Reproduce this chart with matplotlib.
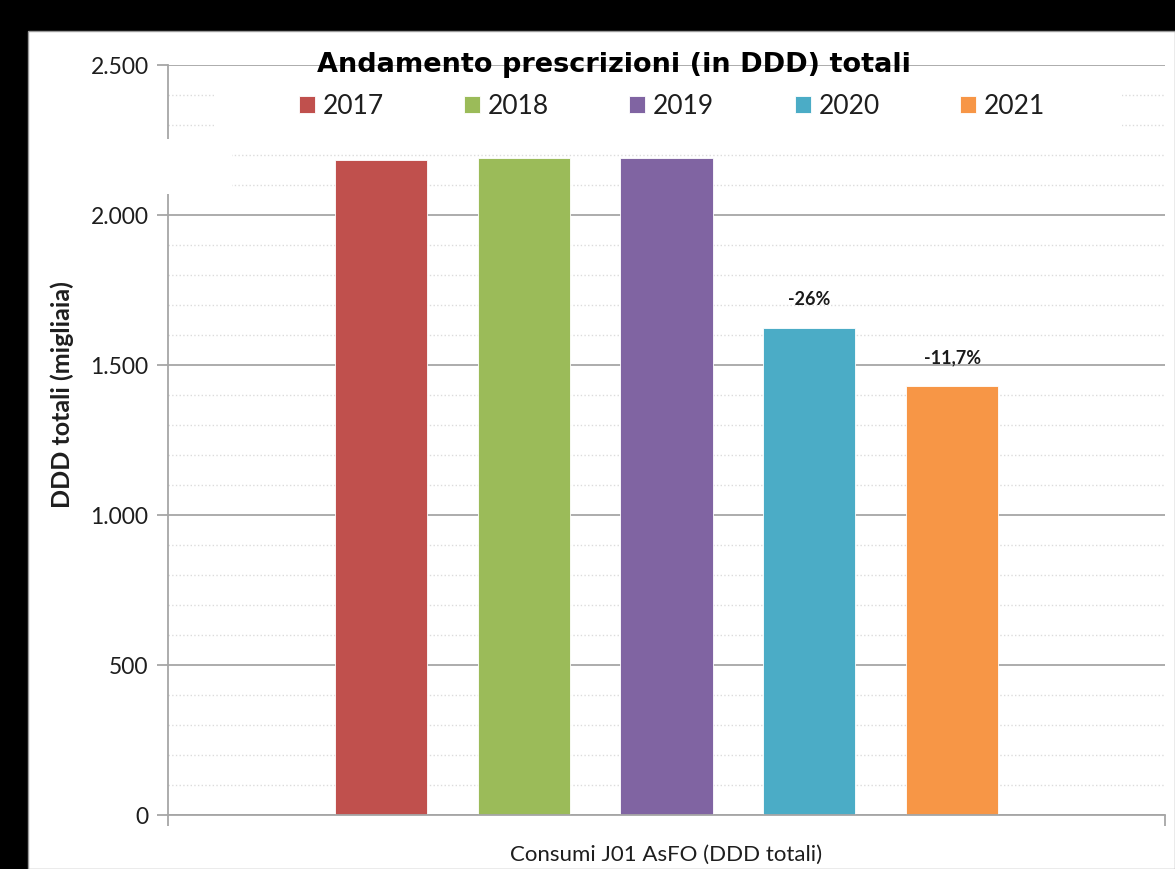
import numpy as np
import matplotlib
matplotlib.use('Agg')
import matplotlib.pyplot as plt
from matplotlib.patches import Rectangle
from matplotlib.ticker import MultipleLocator, FuncFormatter

# ---------------------------------------------------------------------------
# Data (DDD totali, migliaia)
# ---------------------------------------------------------------------------

years = ['2017', '2018', '2019', '2020', '2021']
values = [2183, 2190, 2190, 1623, 1430]
bar_labels = ['', '', '', '-26%', '-11,7%']
colors = ['#C0504D', '#9BBB59', '#8064A2', '#4BACC6', '#F79646']

TITLE = 'Andamento prescrizioni (in DDD) totali'
YLABEL = 'DDD totali (migliaia)'
XLABEL = 'Consumi J01 AsFO (DDD totali)'

W, H = 1175, 870

# ---------------------------------------------------------------------------
# Plot
# ---------------------------------------------------------------------------

plt.rcParams['font.family'] = ['Lato', 'DejaVu Sans']

fig = plt.figure(figsize=(W / 100, H / 100), dpi=100, facecolor='black')
fig.patches.append(Rectangle((28 / W, 0), 1 - 28 / W, 1 - 32 / H,
                             transform=fig.transFigure, facecolor='white',
                             edgecolor='#9a9a9a', lw=1, zorder=-1))

ax = fig.add_axes([168 / W, 1 - 816 / H, (1165 - 168) / W, (816 - 66) / H])
ax.set_facecolor('white')

spacing = 0.1434
width = 0.0923
for i, (yr, v, c, lab) in enumerate(zip(years, values, colors, bar_labels)):
    x = (i - 2) * spacing
    ax.bar(x, v, width=width, color=c, edgecolor='#ffffff', linewidth=0.6,
           label=yr, zorder=2)
    if lab:
        ax.text(x, v + 70, lab, ha='center', va='bottom', fontsize=13,
                fontweight='bold', color='#1a1a1a', zorder=4)

ax.set_xlim(-0.5, 0.5)
ax.set_ylim(0, 2500)
ax.yaxis.set_major_locator(MultipleLocator(500))
ax.yaxis.set_minor_locator(MultipleLocator(100))
ax.yaxis.set_major_formatter(FuncFormatter(lambda v, p: f'{int(v):,}'.replace(',', '.')))
ax.set_axisbelow(True)
ax.grid(which='major', axis='y', color='#a6a6a6', lw=1.3, ls='-')
ax.grid(which='minor', axis='y', color='#dcdcdc', lw=1.0, ls=':')

ax.set_xticks([-0.5, 0.5])
ax.set_xticklabels(['', ''])
ax.tick_params(axis='x', direction='out', length=8, color='#a6a6a6', width=1.3)
ax.tick_params(axis='y', which='major', direction='out', length=8, color='#a6a6a6',
               width=1.3, labelsize=16.5, labelcolor='#1e1e1e', pad=6)
ax.tick_params(axis='y', which='minor', length=0)

for s in ['top', 'right']:
    ax.spines[s].set_visible(False)
for s in ['left', 'bottom']:
    ax.spines[s].set_color('#a6a6a6')
    ax.spines[s].set_linewidth(1.3)

# white patches left over from the pasted legend
for (x0, y0, x1, y1) in [(214, 68, 1122, 140), (158, 140, 232, 195)]:
    ax.add_patch(Rectangle((x0 / W, 1 - y1 / H), (x1 - x0) / W, (y1 - y0) / H,
                           transform=fig.transFigure, facecolor='white',
                           edgecolor='none', clip_on=False, zorder=3))

leg = ax.legend(ncol=5, loc='center', bbox_to_anchor=(672 / W, 1 - 107 / H),
                bbox_transform=fig.transFigure, frameon=False, fontsize=19,
                handlelength=0.6, handleheight=0.6, handletextpad=0.3,
                columnspacing=3.05, borderpad=0)
leg.set_zorder(5)
for t in leg.get_texts():
    t.set_color('#1e1e1e')

fig.text(614 / W, 1 - 65 / H, TITLE, ha='center', va='center', fontsize=19.5,
         fontweight='bold', family='DejaVu Sans', color='black', zorder=6)
fig.text(62 / W, 1 - 395 / H, YLABEL, rotation=90, ha='center', va='center',
         fontsize=18, fontweight='bold', color='#1e1e1e')
fig.text(666 / W, 1 - 855 / H, XLABEL, ha='center', va='center',
         fontsize=16, color='#1e1e1e')

fig.savefig('out.png', dpi=100, facecolor=fig.get_facecolor())
